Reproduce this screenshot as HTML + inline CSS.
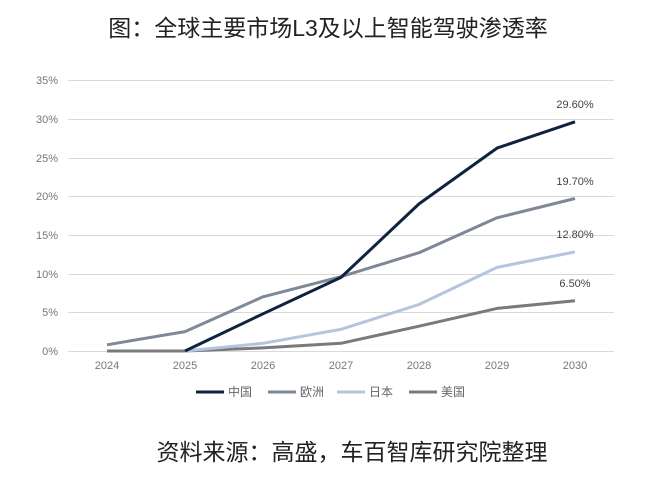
<!DOCTYPE html>
<html><head><meta charset="utf-8"><style>
body{margin:0;background:#fff;}
svg{display:block;font-family:"Liberation Sans","Noto Sans CJK SC",sans-serif;}
</style></head><body>
<svg width="650" height="480" viewBox="0 0 650 480">
<text x="328" y="36" text-anchor="middle" font-size="23" fill="#222">图：全球主要市场L3及以上智能驾驶渗透率</text>
<g stroke="#d9d9d9" stroke-width="1">
<line x1="68" x2="614" y1="80.5" y2="80.5"/><line x1="68" x2="614" y1="119.5" y2="119.5"/>
<line x1="68" x2="614" y1="158.5" y2="158.5"/><line x1="68" x2="614" y1="196.5" y2="196.5"/>
<line x1="68" x2="614" y1="235.5" y2="235.5"/><line x1="68" x2="614" y1="274.5" y2="274.5"/>
<line x1="68" x2="614" y1="312.5" y2="312.5"/><line x1="68" x2="614" y1="351.5" y2="351.5"/>
</g>
<g font-size="11" fill="#777" text-anchor="end">
<text x="58" y="84">35%</text><text x="58" y="123">30%</text><text x="58" y="162">25%</text>
<text x="58" y="200">20%</text><text x="58" y="239">15%</text><text x="58" y="278">10%</text>
<text x="58" y="316">5%</text><text x="58" y="355">0%</text>
</g>
<g font-size="11" fill="#777" text-anchor="middle">
<text x="107" y="369">2024</text><text x="185" y="369">2025</text><text x="263" y="369">2026</text>
<text x="341" y="369">2027</text><text x="419" y="369">2028</text><text x="497" y="369">2029</text><text x="575" y="369">2030</text>
</g>
<g fill="none" stroke-width="3" stroke-linejoin="round">
<polyline stroke="#7a7a7a" points="107,351 185,351 263,347.9 341,343.3 419,326.2 497,308.4 575,300.7"/>
<polyline stroke="#b4c5dd" points="185,351 263,343.3 341,329.3 419,304.5 497,267.4 575,251.9"/>
<polyline stroke="#7f8799" points="107,344.8 185,331.6 263,296.8 341,276.7 419,252.7 497,217.8 575,198.5"/>
<polyline stroke="#0f2340" points="185,351 263,313.8 341,277.4 419,203.9 497,148.1 575,121.8"/>
</g>
<g font-size="11" fill="#444" text-anchor="middle">
<text x="575" y="108">29.60%</text><text x="575" y="185">19.70%</text>
<text x="575" y="238">12.80%</text><text x="575" y="287">6.50%</text>
</g>
<g font-size="12" fill="#666">
<line x1="196" x2="224" y1="392" y2="392" stroke="#0f2340" stroke-width="3"/><text x="228" y="396">中国</text>
<line x1="268" x2="296" y1="392" y2="392" stroke="#7f8799" stroke-width="3"/><text x="300" y="396">欧洲</text>
<line x1="337" x2="365" y1="392" y2="392" stroke="#b4c5dd" stroke-width="3"/><text x="369" y="396">日本</text>
<line x1="409" x2="437" y1="392" y2="392" stroke="#7a7a7a" stroke-width="3"/><text x="441" y="396">美国</text>
</g>
<text x="352" y="460" text-anchor="middle" font-size="23" fill="#222">资料来源：高盛，车百智库研究院整理</text>
</svg>
</body></html>
